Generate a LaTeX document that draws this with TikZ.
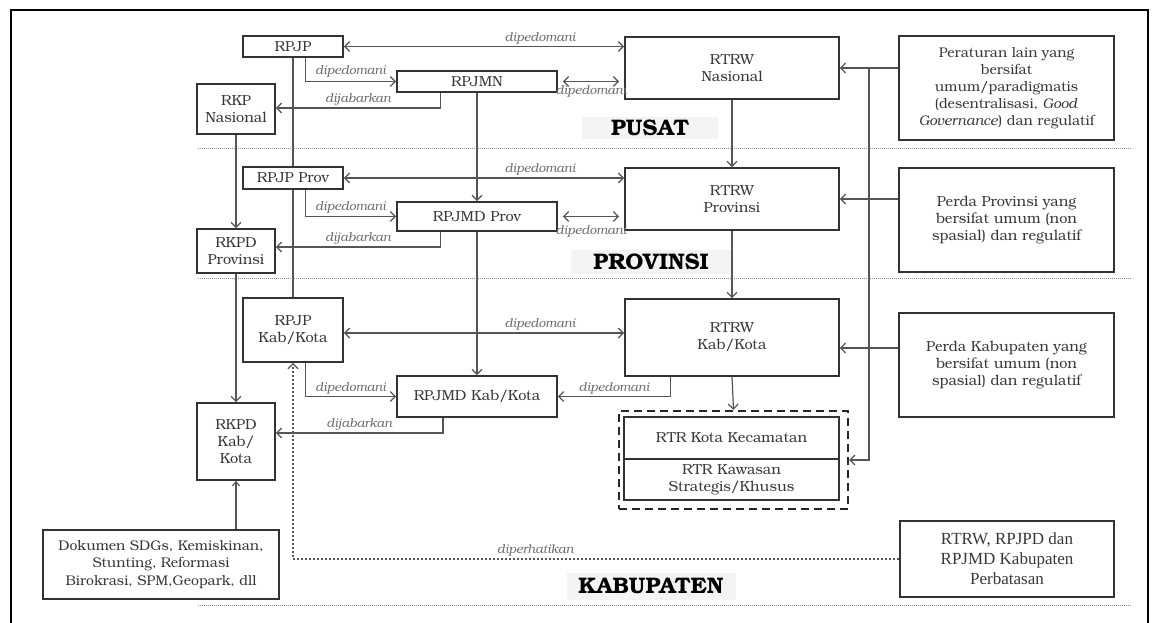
\documentclass[tikz,border=0pt]{standalone}
\usepackage{fontspec}
\setmainfont{TeX Gyre Bonum}
\newfontfamily\narrowserif{Liberation Serif}
\usetikzlibrary{arrows.meta,calc,backgrounds}
\definecolor{boxc}{HTML}{333333}
\definecolor{txtc}{HTML}{383838}
\definecolor{linec}{HTML}{555555}
\definecolor{lblc}{HTML}{6A6A6A}
\definecolor{sepc}{HTML}{8A8A8A}
\definecolor{sectbg}{HTML}{F4F4F4}
\tikzset{
  box/.style={draw=boxc, line width=1.7pt, fill=white, inner sep=2pt, align=center, text=txtc, font=\fontsize{14.5}{17}\selectfont},
  conn/.style={draw=linec, line width=1.2pt},
  arr/.style={conn, -{Straight Barb[length=5pt,width=10pt]}},
  darr/.style={conn, {Straight Barb[length=5pt,width=10pt]}-{Straight Barb[length=5pt,width=10pt]}},
  dotarr/.style={draw=linec, line width=1.3pt, dash pattern=on 2pt off 2pt, -{Straight Barb[length=5pt,width=10pt]}},
  lbl/.style={font=\fontsize{12.5}{14}\selectfont\itshape, text=lblc, inner sep=2pt},
  sepline/.style={draw=sepc, line width=1pt, dash pattern=on 1pt off 1pt},
  sect/.style={font=\fontsize{22.5}{26}\selectfont\bfseries, text=black, fill=sectbg, inner sep=0pt},
  dashbox/.style={draw=black!85, line width=2.3pt, dash pattern=on 8pt off 5pt, inner sep=0pt}
}
\begin{document}
\begin{tikzpicture}[x=1pt,y=-1pt]
\useasboundingbox (0,0) rectangle (1160,622);
% frame
\draw[line width=2pt, black] (11,640) -- (11,10) -- (1148,10) -- (1148,640);
% separators
\draw[sepline] (198,148) -- (1132,148);
\draw[sepline] (198,278) -- (1132,278);
\draw[sepline] (198,605) -- (1132,605);
% section labels
\node[sect, minimum width=136pt, minimum height=22pt] (pusat) at (650,128) {PUSAT};
\node[sect, minimum width=160pt, minimum height=24pt] (prov) at (651,262) {PROVINSI};
\node[sect, minimum width=169pt, minimum height=27pt] (kab) at (651,586) {KABUPATEN};
% boxes
\node[box, minimum width=100pt, minimum height=21pt] (rpjp) at (293,46.5) {RPJP};
\node[box, minimum width=160pt, minimum height=21pt] (rpjmn) at (477,81.5) {RPJMN};
\node[box, minimum width=78pt, minimum height=50pt] (rkp) at (236,109) {RKP\\Nasional};
\node[box, minimum width=214pt, minimum height=62pt] (rtrwn) at (732,68) {RTRW\\Nasional};
\node[box, minimum width=215pt, minimum height=104pt, font=\fontsize{14}{17}\selectfont] (perat) at (1006.5,88) {Peraturan lain yang\\bersifat\\umum/paradigmatis\\(desentralisasi, \textit{Good}\\\textit{Governance}) dan regulatif};
\node[box, minimum width=100pt, minimum height=22pt] (rpjpp) at (293,178) {RPJP Prov};
\node[box, minimum width=160pt, minimum height=29pt] (rpjmdp) at (477,216.5) {RPJMD Prov};
\node[box, minimum width=78pt, minimum height=44pt] (rkpdp) at (236,251) {RKPD\\Provinsi};
\node[box, minimum width=214pt, minimum height=62pt] (rtrwp) at (732,199) {RTRW\\Provinsi};
\node[box, minimum width=215pt, minimum height=104pt] (perdap) at (1006.5,220) {Perda Provinsi yang\\bersifat umum (non\\spasial) dan regulatif};
\node[box, minimum width=100pt, minimum height=64pt] (rpjpk) at (293,330) {RPJP\\Kab/Kota};
\node[box, minimum width=160pt, minimum height=41pt] (rpjmdk) at (477,396.5) {RPJMD Kab/Kota};
\node[box, minimum width=78pt, minimum height=77pt] (rkpdk) at (236,441.5) {RKPD\\Kab/\\Kota};
\node[box, minimum width=214pt, minimum height=77pt] (rtrwk) at (732,337.5) {RTRW\\Kab/Kota};
\node[box, minimum width=215pt, minimum height=104pt] (perdak) at (1006.5,365) {Perda Kabupaten yang\\bersifat umum (non\\spasial) dan regulatif};
\node[dashbox, minimum width=229pt, minimum height=98pt] (dash) at (733.5,460) {};
\node[box, minimum width=215pt, minimum height=42pt] (rtrkec) at (731.5,438) {RTR Kota Kecamatan};
\node[box, minimum width=215pt, minimum height=41pt] (rtrkaw) at (731.5,479.5) {RTR Kawasan\\Strategis/Khusus};
\node[box, minimum width=214pt, minimum height=76pt, font=\narrowserif\fontsize{17}{20}\selectfont] (perbat) at (1007,559) {RTRW, RPJPD dan\\RPJMD Kabupaten\\Perbatasan};
\node[box, minimum width=236pt, minimum height=69pt, font=\fontsize{14}{17.5}\selectfont] (dok) at (161,564.5) {Dokumen SDGs, Kemiskinan,\\Stunting, Reformasi\\Birokrasi, SPM,Geopark, dll};
% line behind RPJP Prov
\begin{pgfonlayer}{background}
\draw[conn] (rpjp.south) -- (rpjpk.north);
\end{pgfonlayer}
% coordinates
\coordinate (yk) at (0,348);
\coordinate (jn) at ($(rtrwn.east)!0.5!(perat.west |- rtrwn.east)$);
% level pusat
\draw[darr] (rpjp.east) -- (rpjp.east -| rtrwn.west) node[lbl, above, pos=0.7] (l1) {dipedomani};
\draw[darr] ($(rpjmn.east)+(5,0)$) -- ($(rpjmn.east -| rtrwn.west)+(-5,0)$) node[lbl, below, midway, yshift=-1pt] (l2) {dipedomani};
\draw[arr] ($(rpjp.south west)!0.62!(rpjp.south east)$) |- (rpjmn.west) node[lbl, above, pos=0.75, yshift=2pt] (l3) {dipedomani};
\draw[arr] ($(rpjmn.south west)!0.275!(rpjmn.south east)$) |- ([yshift=1pt]rkp.east) node[lbl, above, pos=0.75] (l4) {dijabarkan};
\draw[arr] (perat.west |- rtrwn.east) -- (rtrwn.east);
\draw[arr] (rkp.south) -- (rkpdp.north);
\draw[arr] (rpjmn.south) -- (rpjmdp.north);
\draw[arr] (rtrwn.south) -- (rtrwp.north);
% level provinsi
\draw[darr] (rpjpp.east) -- (rpjpp.east -| rtrwp.west) node[lbl, above, pos=0.7] (l5) {dipedomani};
\draw[darr] ($(rpjmdp.east)+(5,0)$) -- ($(rpjmdp.east -| rtrwp.west)+(-5,0)$) node[lbl, below, midway, yshift=-6pt] (l6) {dipedomani};
\draw[arr] ($(rpjpp.south west)!0.62!(rpjpp.south east)$) |- (rpjmdp.west) node[lbl, above, pos=0.75, yshift=1pt] (l7) {dipedomani};
\draw[arr] ($(rpjmdp.south west)!0.275!(rpjmdp.south east)$) |- ([yshift=4pt]rkpdp.east) node[lbl, above, pos=0.75] (l8) {dijabarkan};
\draw[arr] (perdap.west |- rtrwp.east) -- (rtrwp.east);
\draw[arr] (rkpdp.south) -- (rkpdk.north);
\draw[arr] (rpjmdp.south) -- (rpjmdk.north);
\draw[arr] (rtrwp.south) -- (rtrwk.north);
% level kabupaten
\draw[darr] ([yshift=-3pt]rpjpk.east) -- ([yshift=-3pt]rpjpk.east -| rtrwk.west) node[lbl, above, pos=0.7] (l9) {dipedomani};
\draw[arr] ($(rpjpk.south west)!0.62!(rpjpk.south east)$) |- (rpjmdk.west) node[lbl, above, pos=0.75] (l10) {dipedomani};
\draw[arr] ($(rpjmdk.south west)!0.29!(rpjmdk.south east)$) |- ([yshift=8.5pt]rkpdk.east) node[lbl, above, pos=0.75] (l11) {dijabarkan};
\draw[arr] ($(rtrwk.south west)!0.215!(rtrwk.south east)$) |- (rpjmdk.east) node[lbl, above, pos=0.75] (l12) {dipedomani};
\draw[arr] (perdak.west |- yk) -- (rtrwk.east |- yk);
\draw[arr] (rtrwk.south) -- (dash.north);
\draw[arr] (jn) |- (dash.east);
% diperhatikan
\draw[dotarr] (perbat.west) -| (rpjpk.south) node[lbl, above, pos=0.3] (l13) {diperhatikan};
% dokumen
\draw[conn, -{Straight Barb[length=4pt,width=7pt]}] (rkpdk.south |- dok.north) -- (rkpdk.south);
\end{tikzpicture}
\end{document}
